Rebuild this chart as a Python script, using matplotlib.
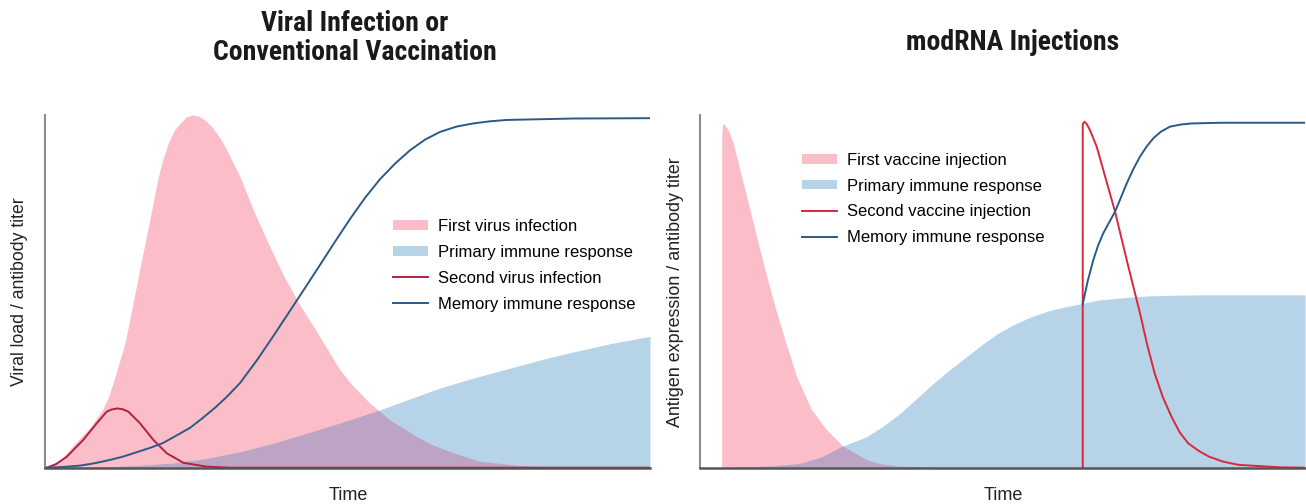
import os
import matplotlib
matplotlib.use("Agg")
from matplotlib import pyplot as plt
from matplotlib import font_manager as fm

plt.rcParams["font.family"] = ["Liberation Sans", "DejaVu Sans"]

# values, time 0..10, level 0..1

# left panel: viral infection / conventional vaccination
first_inf_t = [0, 0.083, 0.25, 0.496, 0.75, 0.964, 1.06, 1.157, 1.322, 1.433, 1.542, 1.653, 1.764, 1.873,
               1.95, 2.038, 2.13, 2.231, 2.34, 2.446, 2.55, 2.65, 2.755, 2.85, 2.947, 3.08, 3.223, 3.443,
               3.691, 3.939, 4.215, 4.545, 4.876, 5.1, 5.372, 5.7, 6.144, 6.4, 6.744, 7.19, 7.85, 8.51, 10]
first_inf_v = [0, 0.003, 0.02, 0.069, 0.115, 0.168, 0.205, 0.258, 0.353, 0.447, 0.542, 0.636, 0.731, 0.825,
               0.875, 0.920, 0.955, 0.976, 0.995, 1.0, 0.996, 0.985, 0.967, 0.945, 0.920, 0.875, 0.825, 0.731,
               0.636, 0.546, 0.461, 0.371, 0.277, 0.23, 0.183, 0.135, 0.088, 0.064, 0.042, 0.017, 0.005, 0, 0]

primary_l_t = [0, 0.909, 1.5, 2.116, 2.7, 3.223, 3.8, 4.331, 4.9, 5.455, 6.0, 6.529, 7.1, 7.636, 8.2, 8.727,
               9.35, 9.95, 10]
primary_l_v = [0, 0.002, 0.006, 0.013, 0.027, 0.045, 0.07, 0.098, 0.128, 0.159, 0.193, 0.226, 0.255, 0.280,
               0.306, 0.328, 0.352, 0.371, 0.372]

second_inf_t = [0, 0.028, 0.18, 0.359, 0.633, 0.855, 1.020, 1.10, 1.195, 1.28, 1.377, 1.570, 1.790, 2.012,
                2.286, 2.673, 3.058, 10]
second_inf_v = [0, 0, 0.01, 0.031, 0.079, 0.126, 0.159, 0.165, 0.168, 0.166, 0.159, 0.126, 0.079, 0.041,
                0.014, 0.003, 0, 0]

memory_l_t = [0, 0.3, 0.579, 0.8, 1.074, 1.3, 1.570, 1.75, 1.950, 2.15, 2.397, 2.6, 2.810, 3.0, 3.223,
              3.504, 3.769, 4.050, 4.215, 4.512, 4.760, 5.041, 5.289, 5.537, 5.785, 6.033, 6.28, 6.529,
              6.8, 7.074, 7.35, 7.636, 8.727, 10]
memory_l_v = [0, 0.002, 0.006, 0.012, 0.022, 0.032, 0.047, 0.057, 0.070, 0.089, 0.113, 0.140, 0.170, 0.200,
              0.240, 0.305, 0.372, 0.445, 0.488, 0.566, 0.632, 0.705, 0.765, 0.818, 0.862, 0.900, 0.930,
              0.952, 0.967, 0.976, 0.982, 0.986, 0.990, 0.991]

# right panel: modRNA injections
first_inj_t = [0.359, 0.359, 0.372, 0.392, 0.468, 0.550, 0.689, 0.826, 0.964, 1.102, 1.256, 1.421, 1.598,
               1.846, 2.094, 2.369, 2.755, 2.975, 3.306, 3.967, 10]
first_inj_v = [0, 0.943, 0.973, 0.976, 0.957, 0.920, 0.825, 0.731, 0.636, 0.542, 0.447, 0.353, 0.258,
               0.164, 0.107, 0.060, 0.022, 0.010, 0.003, 0, 0]

primary_r_t = [0.033, 0.545, 1.157, 1.653, 2.0, 2.342, 2.755, 3.03, 3.306, 3.58, 3.856, 4.13, 4.408, 4.67,
               4.926, 5.2, 5.476, 5.75, 6.028, 6.276, 6.579, 7.0, 7.405, 7.8, 8.231, 10]
primary_r_v = [0, 0.001, 0.005, 0.012, 0.030, 0.060, 0.088, 0.118, 0.154, 0.196, 0.239, 0.278, 0.315, 0.35,
               0.381, 0.407, 0.428, 0.444, 0.456, 0.464, 0.475, 0.482, 0.487, 0.489, 0.490, 0.490]

second_inj_t = [6.326, 6.326, 6.355, 6.39, 6.446, 6.557, 6.666, 6.860, 7.053, 7.16, 7.273, 7.39, 7.514,
                7.65, 7.792, 7.93, 8.071, 8.25, 8.418, 8.65, 8.904, 9.603, 10]
second_inj_v = [0, 0.974, 0.981, 0.975, 0.957, 0.910, 0.844, 0.726, 0.589, 0.515, 0.438, 0.35, 0.268,
                0.2, 0.145, 0.1, 0.069, 0.047, 0.031, 0.017, 0.008, 0.001, 0]

memory_r_t = [6.326, 6.41, 6.501, 6.58, 6.666, 6.860, 6.96, 7.053, 7.16, 7.273, 7.38, 7.493, 7.62, 7.769,
              7.95, 8.121, 8.6, 9.223, 10]
memory_r_v = [0.464, 0.53, 0.589, 0.63, 0.665, 0.726, 0.767, 0.806, 0.846, 0.882, 0.91, 0.934, 0.953,
              0.967, 0.973, 0.976, 0.978, 0.978, 0.978]

PINK = "#fbbdc8"
BLUE = "#b7d3e8"
MIX = "#bea4c4"
NAVY = "#2b5a85"
CRIMSON = "#b3203c"
RED = "#d8283c"


def title_font(size):
    files = {}
    for f in fm.fontManager.ttflist:
        files[os.path.splitext(os.path.basename(f.fname))[0].lower()] = f.fname
    for name in ["robotocondensed-bold", "liberationsansnarrow-bold", "dejavusanscondensed-bold"]:
        if name in files:
            return fm.FontProperties(fname=files[name], size=size)
    return fm.FontProperties(family="DejaVu Sans", weight="bold", size=size - 3)


def draw_panel(ax, pink, blue, red, red_color, line, labels, legend_xy):
    p = ax.fill_between(pink[0], 0, pink[1], color=PINK, lw=0, label=labels[0])
    ax.fill_between(blue[0], 0, blue[1], color=BLUE, lw=0, label=labels[1])
    # overlap of the two areas is darker (multiplied colours)
    mix = ax.fill_between(blue[0], 0, blue[1], color=MIX, lw=0)
    mix.set_clip_path(p.get_paths()[0], ax.transData)
    ax.plot(red[0], red[1], color=red_color, lw=1.4, label=labels[2])
    ax.plot(line[0], line[1], color=NAVY, lw=1.4, label=labels[3])

    ax.set_xlim(0, 10)
    ax.set_ylim(0, 1)
    ax.set_xticks([])
    ax.set_yticks([])
    for s in ["top", "right"]:
        ax.spines[s].set_visible(False)
    ax.spines["left"].set_color("#8c8c8c")
    ax.spines["left"].set_linewidth(1.5)
    ax.spines["bottom"].set_color("#555555")
    ax.spines["bottom"].set_linewidth(1.8)

    ax.legend(loc="upper left", bbox_to_anchor=legend_xy, frameon=False, fontsize=12,
              handlelength=2.1, handleheight=0.5, handletextpad=0.6, labelspacing=0.65,
              borderpad=0, borderaxespad=0)


fig = plt.figure(figsize=(13.06, 5.04), dpi=100)
W, H = 1306, 504

ax1 = fig.add_axes([45 / W, 36.3 / H, 605 / W, 352.7 / H])
ax2 = fig.add_axes([700 / W, 36.3 / H, 605 / W, 352.7 / H])

draw_panel(ax1, (first_inf_t, first_inf_v), (primary_l_t, primary_l_v), (second_inf_t, second_inf_v), CRIMSON,
           (memory_l_t, memory_l_v),
           ["First virus infection", "Primary immune response", "Second virus infection",
            "Memory immune response"], (0.575, 0.705))
draw_panel(ax2, (first_inj_t, first_inj_v), (primary_r_t, primary_r_v), (second_inj_t, second_inj_v), RED,
           (memory_r_t, memory_r_v),
           ["First vaccine injection", "Primary immune response", "Second vaccine injection",
            "Memory immune response"], (0.168, 0.893))

fig.text(355 / W, 1 - 38 / H, "Viral Infection or\nConventional Vaccination", ha="center", va="center",
         fontproperties=title_font(20), linespacing=1.05, color="#1a1a1a")
fig.text(1013 / W, 1 - 42 / H, "modRNA Injections", ha="center", va="center",
         fontproperties=title_font(20), color="#1a1a1a")

fig.text(20 / W, 1 - 292 / H, "Viral load / antibody titer", rotation=90, ha="center", va="center",
         fontsize=12.7, color="#222222")
fig.text(675 / W, 1 - 292 / H, "Antigen expression / antibody titer", rotation=90, ha="center", va="center",
         fontsize=12.9, color="#222222")
fig.text(348 / W, 1 - 496 / H, "Time", ha="center", va="center", fontsize=13, color="#222222")
fig.text(1003 / W, 1 - 496 / H, "Time", ha="center", va="center", fontsize=13, color="#222222")

fig.savefig("out.png", dpi=100)
